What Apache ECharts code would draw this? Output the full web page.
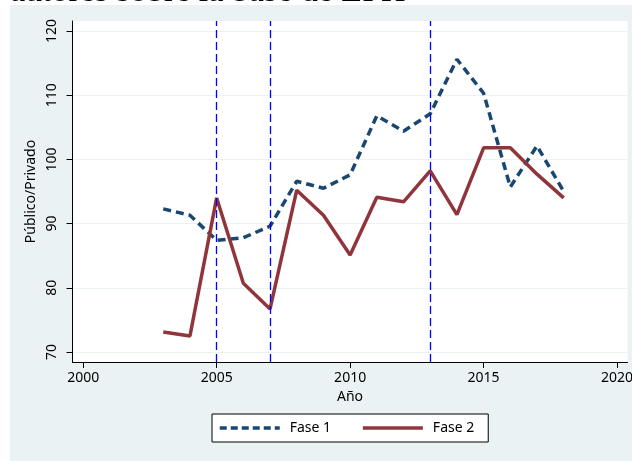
<!DOCTYPE html>
<html>
<head>
<meta charset="utf-8">
<script src="https://cdn.jsdelivr.net/npm/echarts@6/dist/echarts.min.js"></script>
<style>
    html,body{margin:0;padding:0;background:#fff;}
    #wrap{position:relative;width:632px;height:461px;overflow:hidden;background:#fff;}
    #bg{position:absolute;left:10px;top:5px;right:0;bottom:0;background:#eaf2f3;}
    #main{position:absolute;left:0;top:0;width:632px;height:461px;}
</style>
</head>
<body>
<div id="wrap">
    <div id="bg"></div>
    <div id="main"></div>
</div>
<script>
var years = [2003,2004,2005,2006,2007,2008,2009,2010,2011,2012,2013,2014,2015,2016,2017,2018];
var fase1 = [92.3,91.3,87.4,87.8,89.6,96.6,95.5,97.6,106.8,104.4,107.1,115.6,110.3,95.7,102.1,95.0];
var fase2 = [73.1,72.5,94.0,80.7,76.7,95.2,91.3,85.1,94.1,93.4,98.2,91.4,101.8,101.8,97.7,94.0];
var phaseYears = [2005,2007,2013];
var xTicks = [2000,2005,2010,2015,2020];
var yTicks = [70,80,90,100,110,120];
var seriesNames = ["Fase 1","Fase 2"];

function pairs(xs, ys){
    var res = [];
    for(var i=0;i<xs.length;i++){
        res.push([xs[i], ys[i]]);
    }
    return res;
}

var font = "Noto Sans";
var myChart = echarts.init(document.getElementById("main"), null, {renderer:'canvas'});
var marks = [];
for(var i=0;i<phaseYears.length;i++){
    marks.push({xAxis: phaseYears[i]});
}
var option = {
    animation:false,
    backgroundColor:'transparent',
    textStyle:{fontFamily:font},
    graphic:[{
        type:'text',
        left:10,
        top:-25,
        silent:true,
        style:{
            text:'autores sobre la base de EPH',
            fontFamily:'Liberation Serif',
            fontSize:34,
            fontWeight:'normal',
            fill:'#000'
        }
    }],
    grid:{
        left:72.5, right:4.5, top:21, bottom:99,
        outerBoundsMode:'none',
        containLabel:false,
        show:true, backgroundColor:'#fff', borderWidth:0
    },
    xAxis:{
        type:'value',
        min:1999.6, max:2020.39,
        name:'Año', nameLocation:'middle', nameGap:26,
        nameTextStyle:{fontSize:14, color:'#000', fontFamily:font},
        axisLine:{show:true, onZero:false, lineStyle:{color:'#000', width:1}},
        axisTick:{show:true, length:6, customValues:xTicks, lineStyle:{color:'#000'}},
        axisLabel:{customValues:xTicks, margin:9, fontSize:14, color:'#000', fontFamily:font,
            formatter:function(v){return String(v);}},
        splitLine:{show:false}
    },
    yAxis:{
        type:'value',
        min:68.44, max:121.56,
        name:'Público/Privado', nameLocation:'middle', nameGap:26, nameRotate:90,
        nameTextStyle:{fontSize:14, color:'#000', fontFamily:font},
        axisLine:{show:true, onZero:false, lineStyle:{color:'#000', width:1}},
        axisTick:{show:true, length:6, customValues:yTicks, lineStyle:{color:'#000'}},
        axisLabel:{customValues:yTicks, rotate:90, margin:13, fontSize:14, color:'#000', fontFamily:font},
        splitLine:{show:true, lineStyle:{color:'#eaf2f3', width:1.2}}
    },
    legend:{
        data:[{name:seriesNames[0], lineStyle:{type:[7,4]}}, {name:seriesNames[1]}],
        left:212, top:414,
        orient:'horizontal',
        padding:[7,14,7,6],
        itemGap:30,
        itemWidth:60, itemHeight:15,
        borderColor:'#000', borderWidth:1, borderRadius:0,
        backgroundColor:'#fff',
        itemStyle:{opacity:0},
        lineStyle:{width:3.5},
        textStyle:{fontSize:14, color:'#000', fontFamily:font, padding:[0,0,0,5]}
    },
    series:[{
        name:seriesNames[0],
        type:'line',
        data:pairs(years, fase1),
        symbol:'none', showSymbol:false,
        color:'#1a476f',
        lineStyle:{color:'#1a476f', width:3.5, type:[8,5]},
        z:3,
        markLine:{
            silent:true,
            symbol:['none','none'],
            label:{show:false},
            lineStyle:{color:'#0000ff', width:1.3, type:[8,4]},
            data:marks
        }
    },{
        name:seriesNames[1],
        type:'line',
        data:pairs(years, fase2),
        symbol:'none', showSymbol:false,
        color:'#90353b',
        lineStyle:{color:'#90353b', width:3.5, type:'solid'},
        z:4
    }]
};
myChart.setOption(option);
</script>
</body>
</html>
